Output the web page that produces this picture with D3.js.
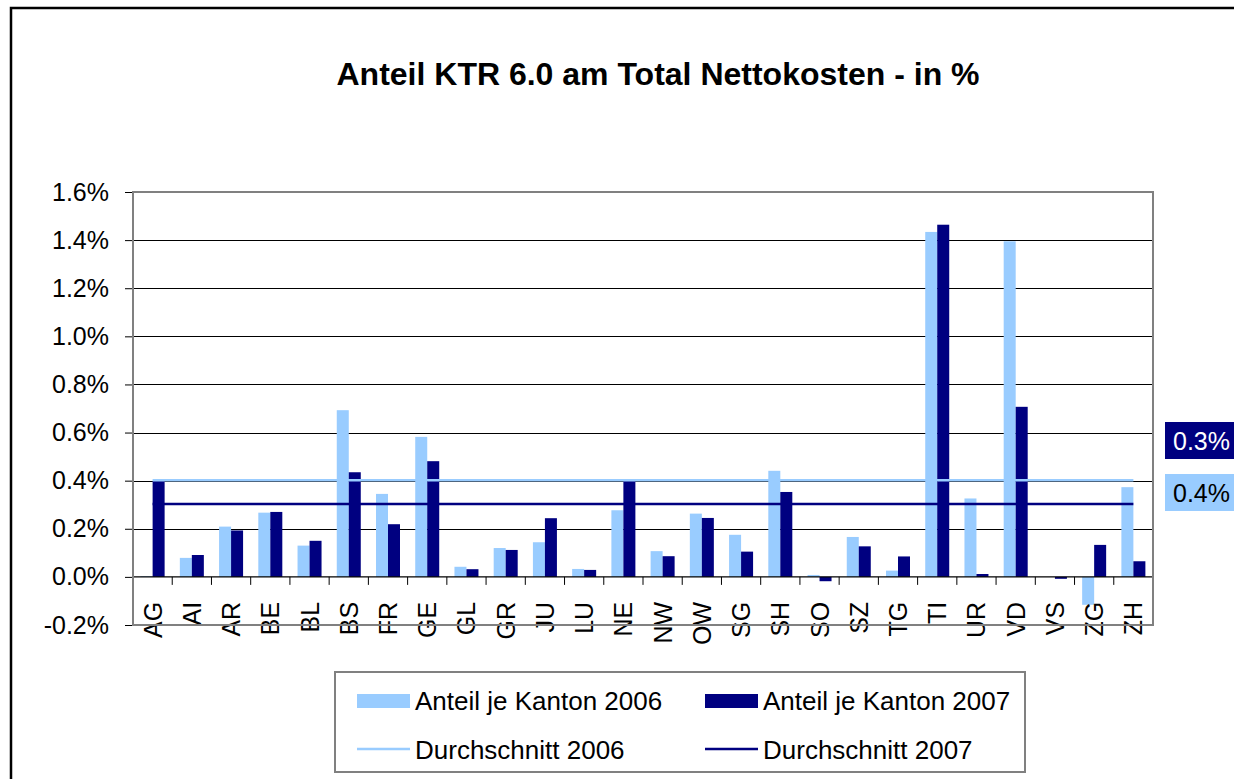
<!DOCTYPE html>
<html>
<head>
<meta charset="utf-8">
<script src="https://cdn.jsdelivr.net/npm/d3@7"></script>
<style>
  body { margin: 0; background: #fff; }
  svg { display: block; font-family: Arial, "Liberation Sans", sans-serif; }
</style>
</head>
<body>
<svg id="chart" width="1234" height="779"></svg>
<script>
// cantons on the x axis
const cantons = ["AG", "AI", "AR", "BE", "BL", "BS", "FR", "GE", "GL", "GR", "JU", "LU", "NE",
    "NW", "OW", "SG", "SH", "SO", "SZ", "TG", "TI", "UR", "VD", "VS", "ZG", "ZH"];
// share per canton, in %
const share2006 = [0.003, 0.079, 0.209, 0.267, 0.130, 0.693, 0.345, 0.582, 0.042, 0.120, 0.144, 0.033, 0.277,
    0.107, 0.263, 0.175, 0.441, 0.008, 0.166, 0.026, 1.434, 0.326, 1.395, 0.000, -0.116, 0.373];
const share2007 = [0.399, 0.091, 0.193, 0.270, 0.150, 0.435, 0.219, 0.481, 0.032, 0.112, 0.244, 0.029, 0.406,
    0.086, 0.245, 0.105, 0.353, -0.018, 0.127, 0.085, 1.464, 0.012, 0.707, -0.008, 0.133, 0.065];
const avg2006 = 0.402, avg2007 = 0.303;
const yTicks = [-0.2, 0, 0.2, 0.4, 0.6, 0.8, 1.0, 1.2, 1.4, 1.6];
const legendItems = ["Anteil je Kanton 2006", "Anteil je Kanton 2007", "Durchschnitt 2006", "Durchschnitt 2007"];

const light = "#99ccff", navy = "#000080";
const svg = d3.select("#chart");
const pct = d => d.toFixed(1) + "%"; // plain hyphen for negatives, like the original

// outer chart border (runs off the right and bottom edge)
svg.append("rect").attr("x", 11).attr("y", 8).attr("width", 1300).attr("height", 900)
    .attr("fill", "#fff").attr("stroke", "#000").attr("stroke-width", 2.5);

svg.append("text").attr("x", 658).attr("y", 85).attr("text-anchor", "middle")
    .attr("font-size", 32).attr("font-weight", "bold")
    .text("Anteil KTR 6.0 am Total Nettokosten - in %");

let plotL = 133, plotR = 1153, plotT = 192, plotB = 625;
let x = d3.scaleBand().domain(cantons).range([plotL, plotR]);
let y = d3.scaleLinear().domain([-0.2, 1.6]).range([plotB, plotT]);
let barW = 12;

// gridlines
svg.append("g").selectAll("line")
    .data(yTicks.filter(d => d > 0 && d < 1.6))
    .join("line")
    .attr("x1", plotL).attr("x2", plotR)
    .attr("y1", d => Math.round(y(d)) + 0.5).attr("y2", d => Math.round(y(d)) + 0.5)
    .attr("stroke", "#000").attr("stroke-width", 1);

// y axis
let yAxis = svg.append("g").attr("transform", `translate(${plotL},0)`)
    .call(d3.axisLeft(y).tickValues(yTicks).tickSize(8).tickPadding(16).tickFormat(pct));
yAxis.select(".domain").remove();
yAxis.selectAll(".tick line").attr("stroke", "#000");
yAxis.selectAll("text").attr("font-size", 25).attr("font-family", "Arial, 'Liberation Sans', sans-serif")
    .attr("fill", "#000");

// bars
let groups = svg.append("g").selectAll("g")
    .data(cantons)
    .join("g")
    .attr("transform", d => `translate(${x(d) + x.bandwidth() / 2},0)`);
groups.append("rect")
    .attr("x", -barW)
    .attr("y", (d, i) => y(Math.max(0, share2006[i])))
    .attr("width", barW)
    .attr("height", (d, i) => Math.abs(y(share2006[i]) - y(0)))
    .attr("fill", light);
groups.append("rect")
    .attr("x", 0)
    .attr("y", (d, i) => y(Math.max(0, share2007[i])))
    .attr("width", barW)
    .attr("height", (d, i) => Math.abs(y(share2007[i]) - y(0)))
    .attr("fill", navy);

// zero axis with ticks between categories
svg.append("line").attr("x1", plotL).attr("x2", plotR)
    .attr("y1", y(0)).attr("y2", y(0)).attr("stroke", "#000").attr("stroke-width", 1.2);
svg.append("g").selectAll("line")
    .data(cantons.slice(1).concat(["end"]))
    .join("line")
    .attr("x1", (d, i) => plotL + (i + 1) * x.step()).attr("x2", (d, i) => plotL + (i + 1) * x.step())
    .attr("y1", y(0)).attr("y2", y(0) + 8)
    .attr("stroke", "#000");

// category labels
svg.append("g").selectAll("text")
    .data(cantons)
    .join("text")
    .attr("transform", d => `translate(${x(d) + x.bandwidth() / 2},${y(0) + 25}) rotate(-90)`)
    .attr("dy", "0.36em")
    .attr("text-anchor", "end")
    .attr("font-size", 25)
    .text(d => d);

// average lines
let cx0 = x(cantons[0]) + x.bandwidth() / 2, cx1 = x(cantons[cantons.length - 1]) + x.bandwidth() / 2;
[[avg2006, light], [avg2007, navy]].forEach(([v, c]) => {
    svg.append("line").attr("x1", cx0).attr("x2", cx1)
        .attr("y1", y(v)).attr("y2", y(v))
        .attr("stroke", c).attr("stroke-width", 2.5);
});

// plot frame
svg.append("rect").attr("x", plotL).attr("y", plotT).attr("width", plotR - plotL).attr("height", plotB - plotT)
    .attr("fill", "none").attr("stroke", "#808080").attr("stroke-width", 2);

// average value boxes on the right
[[avg2007, navy, "#fff", 422], [avg2006, light, "#000", 474]].forEach(([v, c, tc, by]) => {
    svg.append("rect").attr("x", 1165).attr("y", by).attr("width", 80).attr("height", 37).attr("fill", c);
    svg.append("text").attr("x", 1173).attr("y", by + 18.5).attr("dy", "0.36em")
        .attr("font-size", 25).attr("fill", tc).text(pct(v));
});

// legend
let lg = svg.append("g");
lg.append("rect").attr("x", 335).attr("y", 672).attr("width", 690).attr("height", 100)
    .attr("fill", "#fff").attr("stroke", "#808080").attr("stroke-width", 2);
let legendPos = [[357, 701], [705, 701], [357, 750], [705, 750]];
legendItems.forEach((t, i) => {
    let [lx, ly] = legendPos[i];
    let c = i % 2 == 0 ? light : navy;
    if (i < 2) lg.append("rect").attr("x", lx).attr("y", ly - 7).attr("width", 53).attr("height", 14).attr("fill", c);
    else lg.append("line").attr("x1", lx).attr("x2", lx + 53).attr("y1", ly - 1).attr("y2", ly - 1)
        .attr("stroke", c).attr("stroke-width", 2.5);
    lg.append("text").attr("x", lx + 58).attr("y", ly).attr("dy", "0.36em")
        .attr("font-size", 26).text(t);
});
</script>
</body>
</html>
